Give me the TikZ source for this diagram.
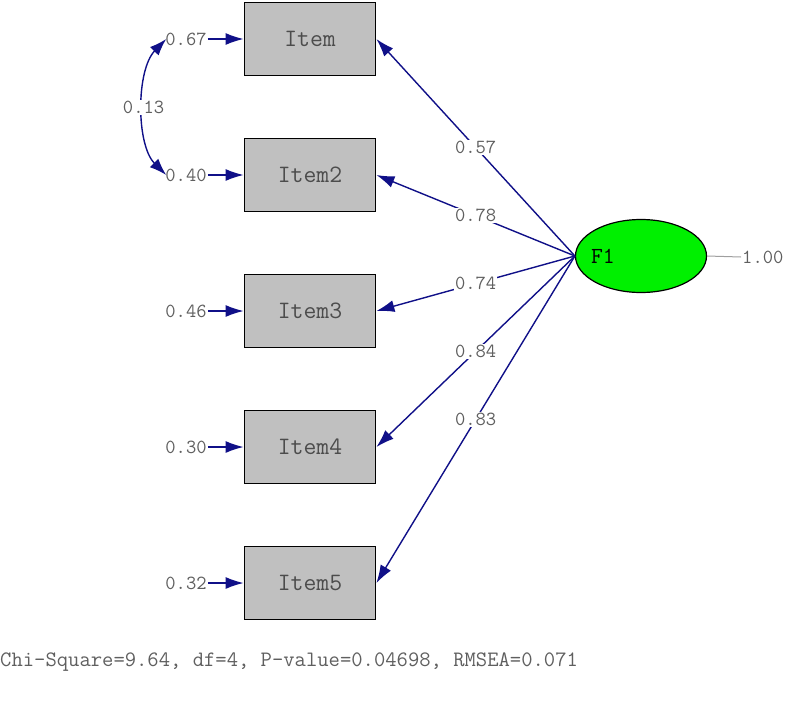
\documentclass[tikz,border=0pt]{standalone}
\usepackage{fontspec}
\usetikzlibrary{arrows.meta,shapes.geometric}
\definecolor{pathblue}{RGB}{16,16,136}
\definecolor{labelgray}{RGB}{95,95,95}
\definecolor{boxgray}{RGB}{192,192,192}
\definecolor{latentgreen}{RGB}{0,240,0}

\begin{document}
\begin{tikzpicture}[x=1pt, y=-1pt, font=\ttfamily\fontsize{20}{24}\selectfont,
  itembox/.style={draw, line width=1.8pt, fill=boxgray, minimum width=131pt,
    minimum height=73pt, inner sep=0pt, text=black!70, font=\ttfamily\fontsize{25}{28}\selectfont},
  latent/.style={ellipse, draw, line width=1.2pt, fill=latentgreen, minimum width=131pt,
    minimum height=73pt, inner sep=0pt},
  est/.style={text=labelgray, inner sep=1pt},
  load/.style={draw=pathblue, line width=1.4pt, -{Latex[length=18pt, width=12pt]}},
  cov/.style={draw=pathblue, line width=1.4pt, {Latex[length=17pt, width=12pt]}-{Latex[length=17pt, width=12pt]}}]
  \useasboundingbox (0,0) rectangle (786,701);

  % observed items, one row each, with their error variances
  \foreach \i/\y/\name/\err in {1/39/Item/0.67, 2/175/Item2/0.40, 3/311/Item3/0.46,
      4/447/Item4/0.30, 5/583/Item5/0.32} {
    \node[itembox] (item\i) at (310, \y) {\name};
    \node[est] (e\i) at (186, \y) {\err};
    \draw[load] (e\i.east) -- (item\i.west);
  }

  % the factor and its fixed variance
  \node[latent] (f1) at (641, 256) {};
  \node[anchor=west, inner sep=0pt, font=\ttfamily\fontsize{23}{26}\selectfont] (f1txt)
    at ([xshift=16pt]f1.west) {F1};
  \node[est, anchor=west] (v1) at (741, 257) {1.00};
  \draw[labelgray!60, line width=1pt] (f1.east) -- (v1.west);

  % loadings
  \foreach \i/\l in {1/0.57, 2/0.78, 3/0.74, 4/0.84, 5/0.83} {
    \draw[load] (f1.west) -- (item\i.east) node[est, pos=0.5, fill=white] {\l};
  }

  % error covariance between the first two items
  \draw[cov] ([xshift=2pt]e1.west) .. controls (136,70) and (136,145) .. ([xshift=2pt]e2.west)
    node[est, pos=0.5, fill=white] {0.13};

  \node[est, anchor=west, inner sep=0pt, font=\ttfamily\fontsize{22}{25}\selectfont] (fit)
    at (0, 662) {Chi-Square=9.64, df=4, P-value=0.04698, RMSEA=0.071};
\end{tikzpicture}
\end{document}
